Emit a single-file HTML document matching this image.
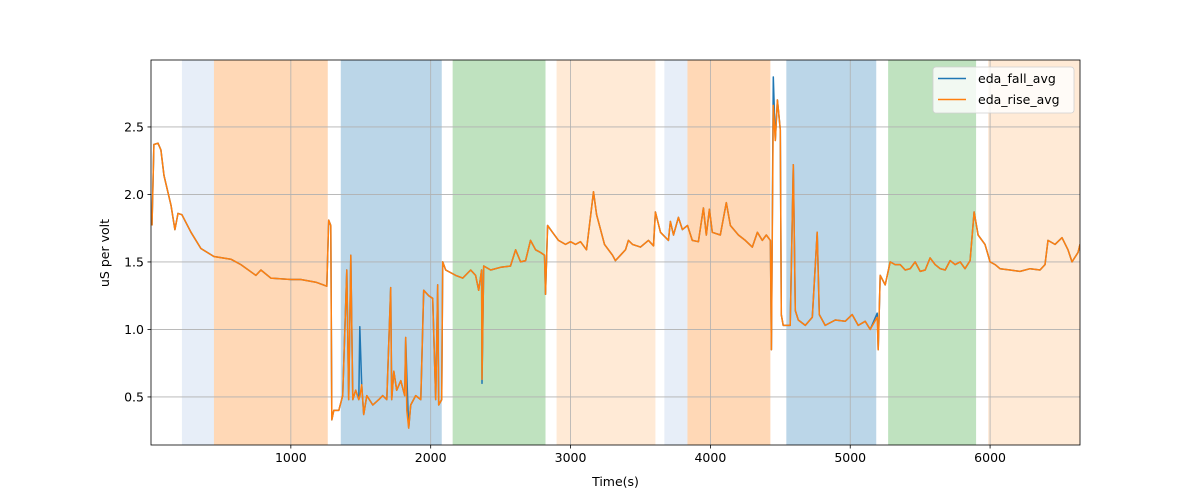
<!DOCTYPE html>
<html><head><meta charset="utf-8"><style>
body{margin:0;background:#fff}
svg{display:block;font-family:"DejaVu Sans","Liberation Sans",sans-serif}
</style></head><body>
<svg id="chart" width="1200" height="500"></svg>
<script>
const spanStarts=[221,450,1357,2157,2900,3671,3836,4543,5271,5986];
const spanEnds=[450,1264,2079,2821,3607,3836,4429,5186,5900,6643];
const spanKinds=[0,1,2,3,4,0,1,2,3,4];
const xTicks=[1000,2000,3000,4000,5000,6000];
const yTicks=[0.5,1.0,1.5,2.0,2.5];
const yTickLabels=["0.5","1.0","1.5","2.0","2.5"];
const times=[7,21,50,71,93,143,171,193,221,286,357,450,571,643,750,786,857,1000,1071,1179,1257,1271,1286,1293,1307,1343,1371,1400,1414,1429,1443,1464,1486,1493,1507,1521,1543,1586,1629,1657,1686,1714,1721,1736,1757,1786,1814,1821,1829,1843,1857,1893,1929,1950,1986,2014,2036,2050,2057,2079,2086,2107,2179,2229,2286,2321,2343,2364,2367,2379,2429,2500,2571,2607,2643,2679,2714,2750,2786,2814,2821,2836,2871,2914,2964,3000,3036,3071,3114,3164,3186,3243,3300,3321,3357,3393,3414,3443,3500,3557,3593,3607,3643,3700,3714,3736,3771,3800,3836,3871,3914,3950,3971,3993,4014,4071,4114,4143,4200,4250,4300,4336,4371,4400,4429,4436,4450,4464,4479,4500,4507,4521,4571,4593,4607,4629,4679,4729,4764,4779,4821,4893,4964,5014,5057,5107,5143,5193,5200,5214,5250,5286,5321,5357,5393,5429,5464,5500,5536,5571,5607,5643,5679,5714,5750,5786,5821,5857,5886,5914,5964,6000,6036,6071,6143,6214,6286,6357,6393,6414,6464,6514,6557,6586,6629,6643];
const riseValues=[1.77,2.37,2.38,2.33,2.14,1.92,1.74,1.86,1.85,1.72,1.60,1.54,1.52,1.48,1.40,1.44,1.38,1.37,1.37,1.35,1.32,1.81,1.77,0.33,0.40,0.40,0.51,1.44,0.48,1.55,0.48,0.55,0.48,0.50,0.59,0.37,0.51,0.44,0.48,0.51,0.48,1.31,0.48,0.69,0.55,0.62,0.51,0.94,0.40,0.27,0.44,0.51,0.48,1.29,1.25,1.23,0.48,1.33,0.44,0.48,1.50,1.44,1.40,1.38,1.44,1.40,1.29,1.44,0.63,1.47,1.44,1.46,1.47,1.59,1.50,1.51,1.66,1.59,1.57,1.55,1.26,1.77,1.72,1.66,1.63,1.65,1.63,1.65,1.59,2.02,1.85,1.63,1.55,1.51,1.55,1.59,1.66,1.63,1.61,1.66,1.62,1.87,1.72,1.66,1.80,1.70,1.83,1.74,1.77,1.66,1.65,1.90,1.70,1.89,1.72,1.70,1.94,1.77,1.70,1.66,1.61,1.72,1.66,1.70,1.66,0.85,2.66,2.40,2.70,2.48,1.11,1.03,1.03,2.22,1.14,1.07,1.03,1.09,1.72,1.11,1.03,1.07,1.06,1.11,1.03,1.06,1.00,1.09,0.85,1.40,1.33,1.50,1.48,1.48,1.44,1.45,1.50,1.43,1.44,1.53,1.48,1.45,1.44,1.51,1.48,1.50,1.45,1.51,1.87,1.70,1.63,1.50,1.48,1.45,1.44,1.43,1.45,1.44,1.48,1.66,1.63,1.68,1.59,1.50,1.57,1.63];
const fallOverrideTimes=[1493,1829,2367,4450,5193];
const fallOverrideValues=[1.02,0.66,0.60,2.87,1.12];

const NS="http://www.w3.org/2000/svg";
const svg=document.getElementById('chart');
const L=151,R=1080,T=60,B=445;
const xMin=0,xMax=6643,yMin=0.144,yMax=2.996;
const xs=v=>L+(v-xMin)/(xMax-xMin)*(R-L);
const ys=v=>B-(v-yMin)/(yMax-yMin)*(B-T);
function mk(tag,attrs,parent){const e=document.createElementNS(NS,tag);for(const k in attrs)e.setAttribute(k,attrs[k]);(parent||svg).appendChild(e);return e;}
const spanColors=["rgba(174,199,232,0.3)","rgba(255,127,14,0.3)","rgba(31,119,180,0.3)","rgba(44,160,44,0.3)","rgba(255,187,120,0.3)"];
const spanNames=["baseline","task-a","task-b","task-c","task-d"];
const clip=mk('clipPath',{id:'pc'});mk('rect',{x:L,y:T,width:R-L,height:B-T},clip);
spanStarts.forEach((s,i)=>{
  const r=mk('rect',{x:xs(s),y:T,width:xs(spanEnds[i])-xs(s),height:B-T,fill:spanColors[spanKinds[i]],'clip-path':'url(#pc)'});
  
  
});
xTicks.forEach(t=>{
  const g=mk('line',{x1:xs(t),x2:xs(t),y1:T,y2:B,stroke:'#b0b0b0','stroke-width':0.8});
  
  
  mk('line',{x1:xs(t),x2:xs(t),y1:B,y2:B+3.5,stroke:'#000','stroke-width':0.8});
  const tx=mk('text',{x:xs(t),y:B+17,'text-anchor':'middle','font-size':12.5});tx.textContent=t;
  
  
});
yTicks.forEach((t,i)=>{
  const g=mk('line',{x1:L,x2:R,y1:ys(t),y2:ys(t),stroke:'#b0b0b0','stroke-width':0.8});
  
  
  mk('line',{x1:L-3.5,x2:L,y1:ys(t),y2:ys(t),stroke:'#000','stroke-width':0.8});
  const tx=mk('text',{x:L-7,y:ys(t)+4.5,'text-anchor':'end','font-size':12.5});tx.textContent=yTickLabels[i];
  
  
});
const fallTimes=times.slice(),fallValues=riseValues.slice();
fallOverrideTimes.forEach((t,i)=>{const j=fallTimes.indexOf(t);if(j>=0)fallValues[j]=fallOverrideValues[i];});
function path(ts,vs){return ts.map((t,i)=>(i?'L':'M')+xs(t).toFixed(1)+','+ys(vs[i]).toFixed(1)).join('');}
const pf=mk('path',{d:path(fallTimes,fallValues),fill:'none',stroke:'#1f77b4','stroke-width':1.5,'clip-path':'url(#pc)','stroke-linejoin':'round'});


const pr=mk('path',{d:path(times,riseValues),fill:'none',stroke:'#ff7f0e','stroke-width':1.5,'clip-path':'url(#pc)','stroke-linejoin':'round'});


const fr=mk('rect',{x:L,y:T,width:R-L,height:B-T,fill:'none',stroke:'#000','stroke-width':0.8});


const xl=mk('text',{x:(L+R)/2,y:486,'text-anchor':'middle','font-size':12.5});xl.textContent='Time(s)';


const yl=mk('text',{x:0,y:0,'text-anchor':'middle','font-size':12.5,transform:'translate(109,253) rotate(-90)'});yl.textContent='uS per volt';


const lg=mk('g',{});


mk('rect',{x:933,y:67,width:141,height:46,rx:3,fill:'rgba(255,255,255,0.8)',stroke:'#d0d0d0','stroke-width':0.8},lg);
mk('line',{x1:938,x2:966,y1:78.5,y2:78.5,stroke:'#1f77b4','stroke-width':1.5},lg);
mk('line',{x1:938,x2:966,y1:99.5,y2:99.5,stroke:'#ff7f0e','stroke-width':1.5},lg);
const l1=mk('text',{x:978,y:83,'font-size':12.5},lg);l1.textContent='eda_fall_avg';


const l2=mk('text',{x:978,y:104,'font-size':12.5},lg);l2.textContent='eda_rise_avg';


</script>
</body></html>
